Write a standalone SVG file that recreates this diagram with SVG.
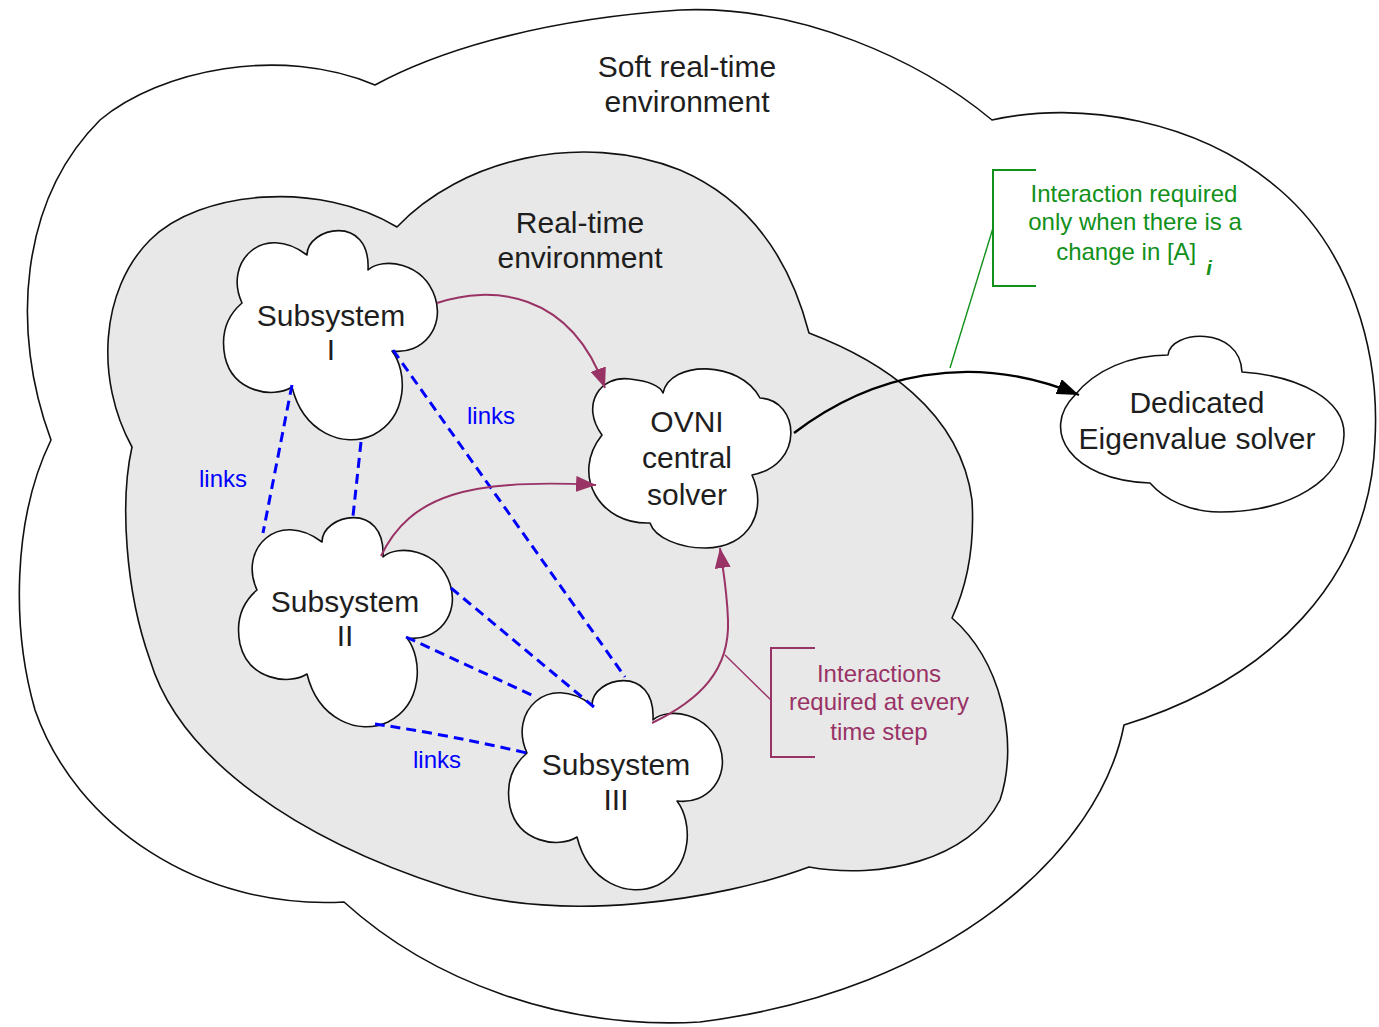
<svg xmlns="http://www.w3.org/2000/svg" width="1379" height="1027" viewBox="0 0 1379 1027">
  <style>
    .outline { stroke: #111; stroke-width: 1.6; stroke-linejoin: round; }
    .env-outer { fill: #ffffff; }
    .env-inner { fill: #e8e8e8; }
    .node { fill: #ffffff; }
    .label { font-family: "Liberation Sans", Arial, sans-serif; font-size: 30px; fill: #1e1e1e; text-anchor: middle; }
    .link { fill: none; stroke: #0000ff; stroke-width: 3; stroke-dasharray: 10 6; }
    .link-label { font-family: "Liberation Sans", Arial, sans-serif; font-size: 24px; fill: #0000ff; text-anchor: middle; }
    .flow { fill: none; stroke: #993366; stroke-width: 2; marker-end: url(#head-purple); }
    .eig { fill: none; stroke: #000; stroke-width: 2.4; marker-end: url(#head-black); }
    .note-green { font-family: "Liberation Sans", Arial, sans-serif; font-size: 24px; fill: #11901a; text-anchor: middle; }
    .note-purple { font-family: "Liberation Sans", Arial, sans-serif; font-size: 24px; fill: #993366; text-anchor: middle; }
    .bracket-green { fill: none; stroke: #11901a; stroke-width: 2; }
    .bracket-purple { fill: none; stroke: #993366; stroke-width: 2; }
    .leader-green { fill: none; stroke: #11901a; stroke-width: 1.4; }
    .leader-purple { fill: none; stroke: #993366; stroke-width: 1.4; }
  </style>
  <defs>
    <!-- five-lobed cloud used for every subsystem -->
    <path id="sub-cloud" d="M 19,76 C 0,35 40,-5 84,28 C 84,0 148,-14 145,43 C 160,30 200,35 212,70 C 222,100 200,128 169,124 C 185,145 185,190 150,208 C 120,222 80,205 69,160 C 50,172 10,165 2,130 C -3,105 5,88 19,76 Z"/>
    <marker id="head-purple" viewBox="0 0 20 16" refX="20" refY="8" markerWidth="20" markerHeight="16" markerUnits="userSpaceOnUse" orient="auto">
      <path d="M0,0 L20,8 L0,16 Z" fill="#993366"/>
    </marker>
    <marker id="head-black" viewBox="0 0 22 16" refX="22" refY="8" markerWidth="22" markerHeight="16" markerUnits="userSpaceOnUse" orient="auto">
      <path d="M0,0 L22,8 L0,16 Z" fill="#000"/>
    </marker>
  </defs>

  <rect x="0" y="0" width="1379" height="1027" fill="#ffffff"/>

  <!-- soft real-time environment -->
  <g id="soft-rt-env">
    <path class="outline env-outer" d="M 51,440 C 10,330 20,200 100,120 C 160,70 280,45 375,85 C 430,55 530,20 680,10 C 800,5 920,60 992,120 C 1080,100 1200,120 1280,190 C 1350,250 1380,350 1375,440 C 1370,580 1270,680 1124,725 C 1100,850 950,990 700,1022 C 560,1030 430,980 344,902 C 200,910 75,825 35,710 C 12,630 12,520 51,440 Z"/>
    <text class="label" x="687" y="77">Soft real-time</text>
    <text class="label" x="687" y="112">environment</text>
  </g>

  <!-- real-time environment -->
  <g id="rt-env">
    <path class="outline env-inner" d="M 132,447 C 95,380 100,290 150,240 C 200,190 320,180 397,227 C 460,160 580,130 680,170 C 750,200 790,260 809,333 C 880,360 960,410 972,500 C 975,550 965,590 952,618 C 1000,660 1020,740 1000,800 C 970,860 880,880 809,867 C 720,900 560,925 446,887 C 300,840 180,760 150,660 C 125,590 120,500 132,447 Z"/>
    <text class="label" x="580" y="233">Real-time</text>
    <text class="label" x="580" y="268">environment</text>
  </g>

  <g id="subsystem-1">
    <use href="#sub-cloud" class="outline node" transform="translate(223,227)"/>
    <text class="label" x="331" y="326">Subsystem</text>
    <text class="label" x="331" y="360">I</text>
  </g>

  <g id="subsystem-2">
    <use href="#sub-cloud" class="outline node" transform="translate(238,514)"/>
    <text class="label" x="345" y="612">Subsystem</text>
    <text class="label" x="345" y="646">II</text>
  </g>

  <g id="subsystem-3">
    <use href="#sub-cloud" class="outline node" transform="translate(508,677)"/>
    <text class="label" x="616" y="775">Subsystem</text>
    <text class="label" x="616" y="810">III</text>
  </g>

  <g id="ovni-solver">
    <path class="outline node" d="M 602,435 C 580,405 600,375 630,379 C 648,381 660,386 663,393 C 670,360 740,360 760,398 C 800,400 805,465 752,475 C 768,510 750,548 705,548 C 680,548 655,538 650,523 C 600,525 570,475 602,435 Z"/>
    <text class="label" x="687" y="432">OVNI</text>
    <text class="label" x="687" y="468">central</text>
    <text class="label" x="687" y="505">solver</text>
  </g>

  <g id="eigen-solver">
    <path class="outline node" d="M 1168,355 C 1170,330 1240,325 1242,372 C 1300,376 1345,400 1344,435 C 1343,480 1290,512 1220,512 C 1190,512 1165,500 1150,483 C 1070,480 1040,430 1075,395 C 1095,370 1130,355 1168,355 Z"/>
    <text class="label" x="1197" y="413">Dedicated</text>
    <text class="label" x="1197" y="449">Eigenvalue solver</text>
  </g>

  <g id="connectors">
    <!-- links between subsystems -->
    <line class="link" x1="292" y1="385" x2="263" y2="533"/>
    <line class="link" x1="361" y1="442" x2="353" y2="516"/>
    <line class="link" x1="393" y1="350" x2="625" y2="677"/>
    <line class="link" x1="451" y1="588" x2="594" y2="707"/>
    <line class="link" x1="406" y1="637" x2="536" y2="697"/>
    <path class="link" d="M 375,724 Q 450,735 531,754"/>
    <text class="link-label" x="223" y="487">links</text>
    <text class="link-label" x="491" y="424">links</text>
    <text class="link-label" x="437" y="768">links</text>

    <!-- every-step interactions with the central solver -->
    <path class="flow" d="M 437,303 C 490,285 570,290 605,388"/>
    <path class="flow" d="M 381,556 C 410,495 470,478 596,485"/>
    <path class="flow" d="M 652,723 C 700,700 730,670 728,620 C 727,590 723,570 720,548"/>

    <!-- occasional call to the eigenvalue solver -->
    <path class="eig" d="M 794,433 C 870,375 970,350 1079,395"/>
  </g>

  <g id="note-eigen">
    <path class="bracket-green" d="M 1036,170 H 993 V 286 H 1036"/>
    <line class="leader-green" x1="993" y1="228" x2="950" y2="368"/>
    <text class="note-green" x="1134" y="202">Interaction required</text>
    <text class="note-green" x="1135" y="230">only when there is a</text>
    <text class="note-green" x="1134" y="260">change in [A]<tspan font-style="italic" font-weight="bold" font-size="20" dx="10" dy="15">i</tspan></text>
  </g>

  <g id="note-step">
    <path class="bracket-purple" d="M 815,648 H 771 V 757 H 815"/>
    <line class="leader-purple" x1="725" y1="655" x2="771" y2="700"/>
    <text class="note-purple" x="879" y="682">Interactions</text>
    <text class="note-purple" x="879" y="710">required at every</text>
    <text class="note-purple" x="879" y="740">time step</text>
  </g>
</svg>
